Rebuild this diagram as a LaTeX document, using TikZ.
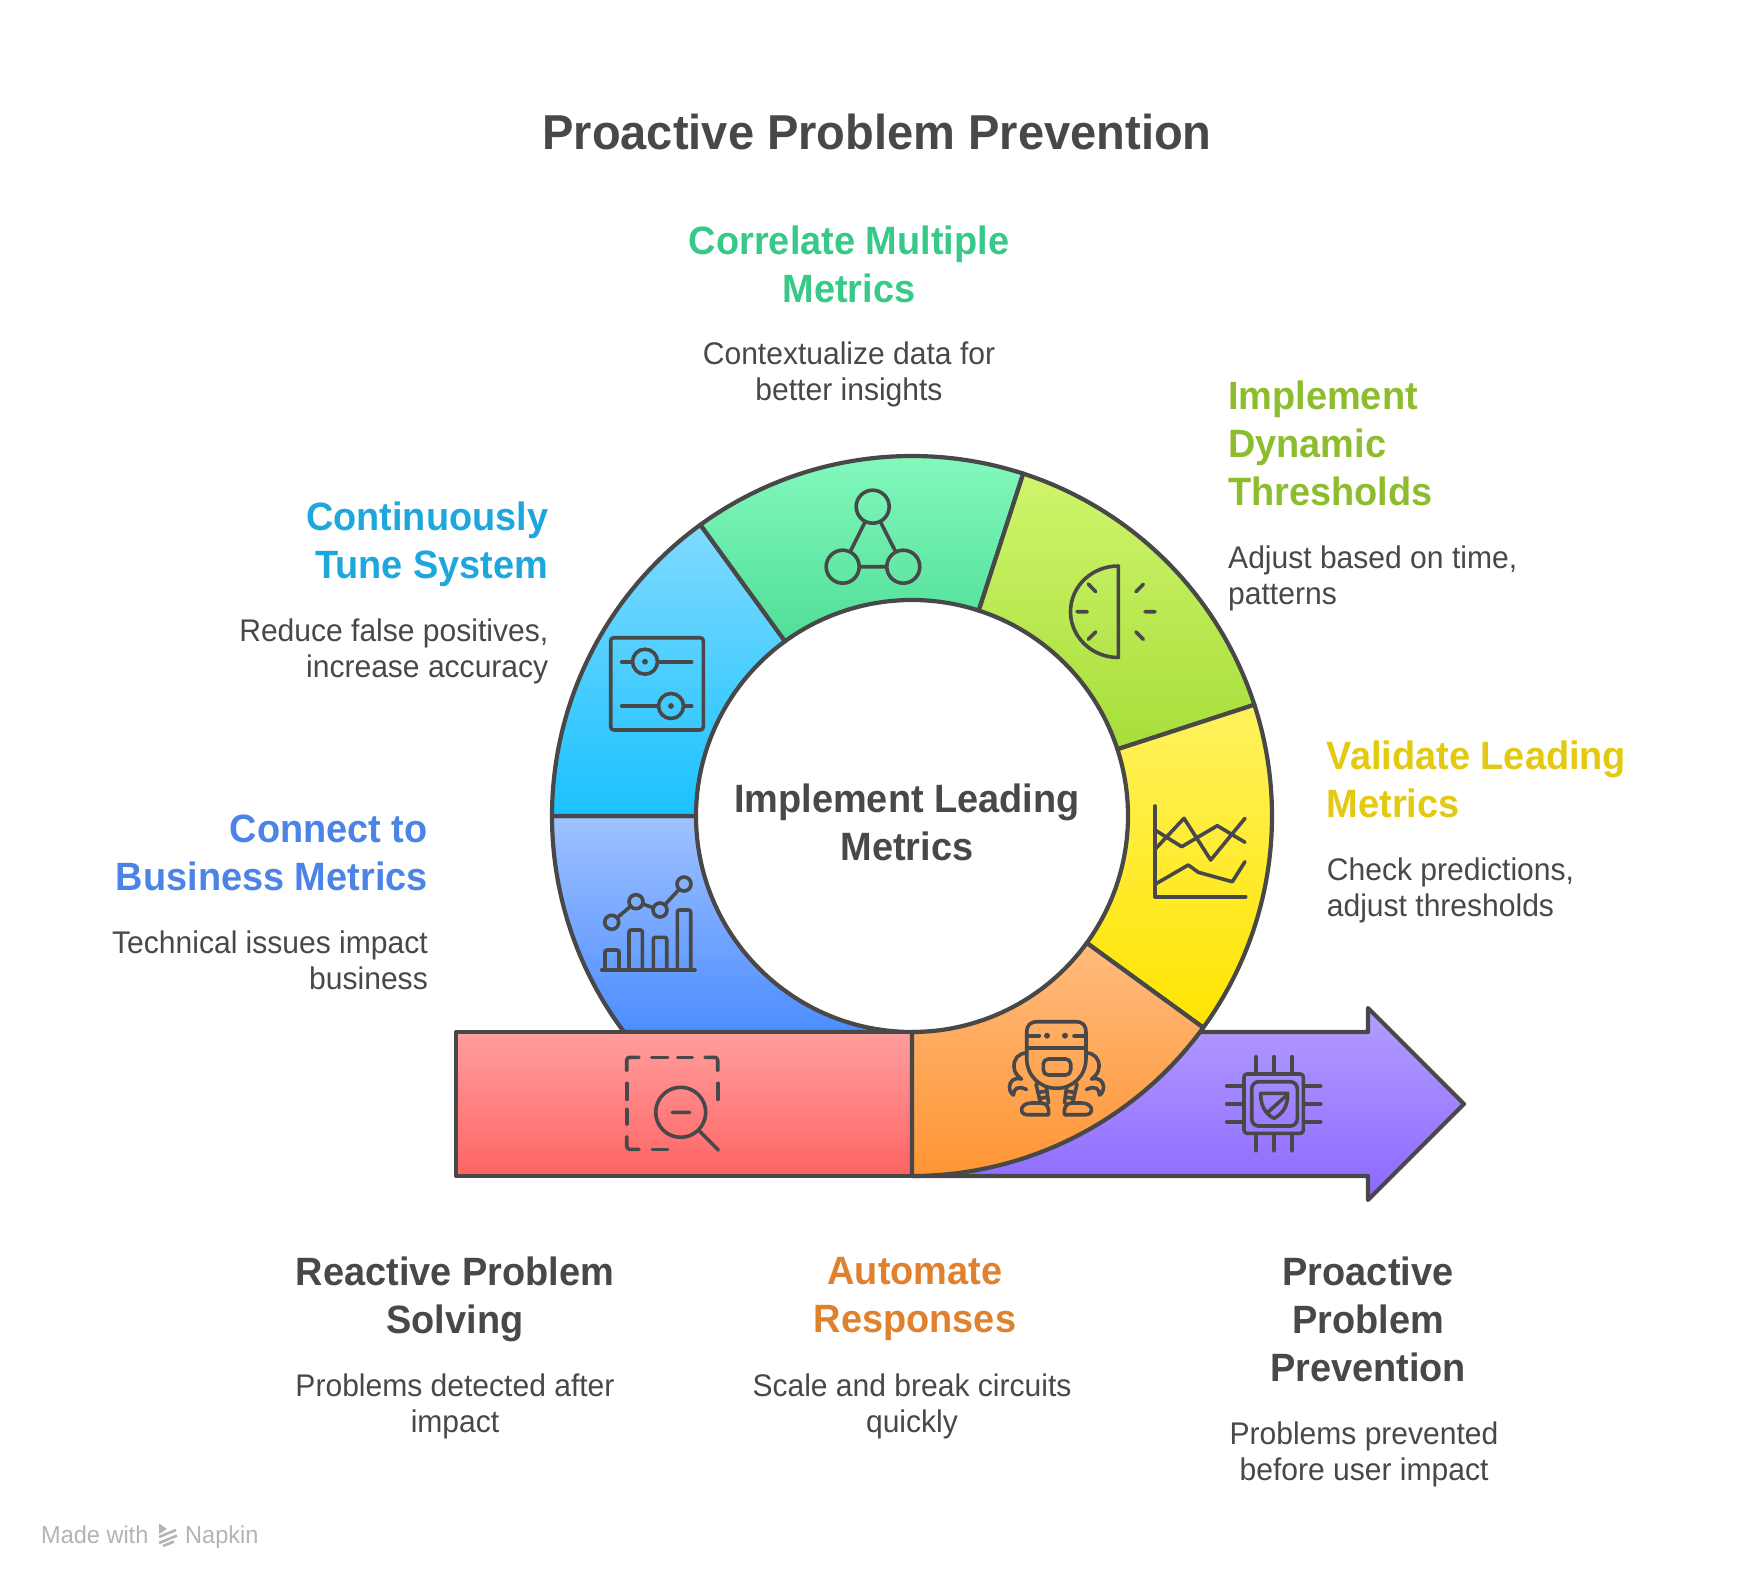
\documentclass[tikz,border=0pt]{standalone}
\usepackage{fontspec}
\setmainfont{Liberation Sans}
\newfontfamily\hfont[FakeStretch=0.96]{Liberation Sans Bold}
\newfontfamily\bfontx[FakeStretch=0.96]{Liberation Sans}
\definecolor{ink}{HTML}{484848}
\definecolor{logo}{HTML}{B4B4B4}
\definecolor{cgreen}{HTML}{36C987}
\definecolor{clime}{HTML}{8DBD2E}
\definecolor{cyellow}{HTML}{E3C90F}
\definecolor{ccyan}{HTML}{1EA7DC}
\definecolor{cblue}{HTML}{4C84E6}
\definecolor{corange}{HTML}{E0812E}
\definecolor{pua}{HTML}{B49DFF}\definecolor{pub}{HTML}{8C68FF}
\definecolor{bla}{HTML}{A0C2FF}\definecolor{blb}{HTML}{4C8DFF}
\definecolor{cya}{HTML}{80DAFF}\definecolor{cyb}{HTML}{19C2FF}
\definecolor{gra}{HTML}{88FBC0}\definecolor{grb}{HTML}{50DE98}
\definecolor{lia}{HTML}{D0F56C}\definecolor{lib}{HTML}{A6DE3A}
\definecolor{yea}{HTML}{FFF15E}\definecolor{yeb}{HTML}{FFE500}
\definecolor{rea}{HTML}{FF9E9E}\definecolor{reb}{HTML}{FF6464}
\definecolor{ora}{HTML}{FFBB7E}\definecolor{orb}{HTML}{FF9534}
\tikzset{
  shp/.style={draw=ink,line width=4.2pt,line join=round},
  ico/.style={draw=ink,line width=3.6pt,line cap=round,line join=round},
  dotx/.style={fill=ink,draw=none},
  ringnode/.style={circle,draw=ink,line width=3.6pt,inner sep=0pt,minimum size=#1},
  txt/.style={inner sep=0pt,text=ink,execute at begin node=\strut,execute at end node=\strut},
  titletxt/.style={txt,yshift=-5.5pt,font=\hfont\fontsize{49}{58}\selectfont,align=center},
  headtxt/.style={txt,yshift=-6.5pt,font=\hfont\fontsize{39.5}{48}\selectfont},
  bodytxt/.style={txt,yshift=-5.5pt,font=\bfontx\fontsize{31.3}{36}\selectfont},
  madetxt/.style={inner sep=0pt,text=logo,font=\bfontx\fontsize{24.5}{28}\selectfont,anchor=base west}
}
\newcommand{\sect}[2]{(#1:216) -- (#1:360) arc[start angle=#1,end angle=#2,radius=360] -- (#2:216) arc[start angle=#2,end angle=#1,radius=216] -- cycle}
\begin{document}
\begin{tikzpicture}[x=1pt,y=-1pt]
\useasboundingbox (0,0) rectangle (1754,1584);
\fill[white] (0,0) rectangle (1754,1584);
% arrow
\draw[shp,top color=pua,bottom color=pub] (912,1032) -- (1368,1032) -- (1368,1008) -- (1464,1104) -- (1368,1200) -- (1368,1176) -- (912,1176) -- cycle;
\begin{scope}[shift={(912,816)},y=1pt]
\draw[shp,top color=bla,bottom color=blb] (180:216) -- (180:360) arc[start angle=180,end angle=216.87,radius=360] -- (270:216) arc[start angle=270,end angle=180,radius=216] -- cycle;
\draw[shp,top color=cya,bottom color=cyb] \sect{126}{180};
\draw[shp,top color=gra,bottom color=grb] \sect{72}{126};
\draw[shp,top color=lia,bottom color=lib] \sect{18}{72};
\draw[shp,top color=yea,bottom color=yeb] \sect{-36}{18};
\end{scope}
% red bar
\draw[shp,top color=rea,bottom color=reb] (456,1032) rectangle (912,1176);
\begin{scope}[shift={(912,816)},y=1pt]
\draw[shp,top color=ora,bottom color=orb] \sect{-90}{-36};
\end{scope}
% triangle icon
\node[ringnode=33pt] (ta) at (872.7,506.7) {};
\node[ringnode=33pt] (tb) at (842.7,566.7) {};
\node[ringnode=33pt] (tc) at (903.3,566.7) {};
\draw[ico] (ta) -- (tb) (tb) -- (tc) (tc) -- (ta);
% sliders icon
\draw[ico,rounded corners=3pt] (610.7,637.7) rectangle (703.3,730);
\node[ringnode=25pt] (sa) at (645,661.7) {};
\node[ringnode=25pt] (sb) at (671,706) {};
\coordinate (saL) at (621.7,661.7); \coordinate (saR) at (691.7,661.7);
\coordinate (sbL) at (621.7,706); \coordinate (sbR) at (691.7,706);
\draw[ico] (saL) -- (sa) (sa) -- (saR) (sbL) -- (sb) (sb) -- (sbR);
\fill[dotx] (sa) circle (2.9); \fill[dotx] (sb) circle (2.9);
% half gauge icon
\draw[ico] (1118.3,566) .. controls (1091.9,566) and (1070.5,586.4) .. (1070.5,611.7) .. controls (1070.5,637) and (1091.9,657.5) .. (1118.3,657.5) -- cycle;
\draw[ico] (1077,611.7) -- (1087.3,611.7) (1088.3,584) -- (1095.7,591.7) (1088.3,639.3) -- (1095.7,632)
  (1145,611.7) -- (1155,611.7) (1143.3,584.3) -- (1136,591.7) (1143.3,639.3) -- (1136,632);
% line chart icon
\draw[ico] (1155,806) -- (1155,896.7) -- (1245.7,896.7);
\draw[ico] (1155,830) -- (1181.7,846.7) -- (1217.3,825.7) -- (1245,842.3);
\draw[ico] (1155,849.3) -- (1184,818.3) -- (1210.7,860) -- (1245,818.3);
\draw[ico] (1155,884.3) -- (1188.3,865) -- (1198.3,872.3) -- (1232.3,881.7) -- (1245,861.7);
% bars icon
\draw[ico] (601.7,970) -- (695,970);
\draw[ico,rounded corners=2pt] (605,970) -- (605,950) -- (619,950) -- (619,970);
\draw[ico,rounded corners=2pt] (629,970) -- (629,930) -- (642.3,930) -- (642.3,970);
\draw[ico,rounded corners=2pt] (653.3,970) -- (653.3,937.3) -- (666.7,937.3) -- (666.7,970);
\draw[ico,rounded corners=2pt] (677.3,970) -- (677.3,910) -- (690.7,910) -- (690.7,970);
\node[ringnode=14pt] (ba) at (611.7,922.3) {};
\node[ringnode=14pt] (bb) at (636,901.7) {};
\node[ringnode=14pt] (bc) at (660,910) {};
\node[ringnode=14pt] (bd) at (684,884) {};
\draw[ico] (ba) -- (bb) (bb) -- (bc) (bc) -- (bd);
% magnifier icon
\draw[ico,rounded corners=3pt] (626.7,1070.7) -- (626.7,1057.3) -- (639,1057.3);
\draw[ico,rounded corners=3pt] (705,1057.3) -- (717.7,1057.3) -- (717.7,1070.7);
\draw[ico,rounded corners=3pt] (626.7,1136.7) -- (626.7,1149.3) -- (639,1149.3);
\draw[ico] (651.7,1057.3) -- (667.7,1057.3) (677.7,1057.3) -- (692.3,1057.3) (626.7,1083.3) -- (626.7,1099.3) (626.7,1109.3) -- (626.7,1124) (652.3,1149.3) -- (667.7,1149.3) (717.7,1083.3) -- (717.7,1099.3);
\node[ringnode=50pt] (mg) at (680.7,1112.3) {};
\coordinate (mh) at (718.3,1150);
\draw[ico] (mg) -- (mh) (672.3,1112.3) -- (689.7,1112.3);
% robot icon
\draw[ico] (1026.7,1033) .. controls (1026.7,1025) and (1030,1021.7) .. (1038,1021.7) -- (1075,1021.7) .. controls (1083,1021.7) and (1086,1025) .. (1086,1033) -- (1086,1058) .. controls (1086,1076) and (1073,1088.3) .. (1056.5,1088.3) .. controls (1040,1088.3) and (1026.7,1076) .. (1026.7,1058) -- cycle;
\draw[ico] (1026.7,1047.7) -- (1086,1047.7) (1026.7,1035.7) -- (1039.3,1035.7) (1074,1035.7) -- (1086,1035.7);
\fill[dotx] (1047,1035.7) circle (3); \fill[dotx] (1065,1035.7) circle (3);
\draw[ico,rounded corners=5pt] (1043.3,1059) rectangle (1070.7,1075);
\foreach \s in {1,-1}{
\begin{scope}[shift={(1056.5,0)},xscale=\s]
\draw[ico] (-29.8,1053) .. controls (-38,1053) and (-43,1059) .. (-42.5,1067) .. controls (-42,1073) and (-39,1076) .. (-35,1079);
\draw[ico] (-35,1079) .. controls (-42,1077) and (-47,1081) .. (-47,1087) .. controls (-47,1091) and (-45,1094) .. (-43,1095) .. controls (-43,1089) and (-39,1085) .. (-30,1089.5);
\draw[ico] (-20.5,1084) -- (-16,1103) (-10,1088) -- (-8,1103) (-19,1092.5) -- (-9,1091) (-17.5,1098.5) -- (-8.5,1097);
\draw[ico] (-8,1114.7) -- (-29,1114.7) .. controls (-38,1114.7) and (-37,1103) .. (-25,1103) -- (-15,1103) .. controls (-9,1103) and (-7,1109) .. (-8,1114.7) -- cycle;
\end{scope}}
% chip icon
\draw[ico,rounded corners=3pt] (1244,1074) rectangle (1303.3,1133.3);
\draw[ico,rounded corners=7pt] (1251.7,1081.7) rectangle (1297.3,1126);
\foreach \p in {1256,1274,1292}{\draw[ico] (\p,1056.7) -- (\p,1073.3) (\p,1134) -- (\p,1150.7);}
\foreach \p in {1086,1104,1122}{\draw[ico] (1226.7,\p) -- (1242.7,\p) (1304,\p) -- (1320.7,\p);}
\draw[ico] (1260.7,1093.3) -- (1287.7,1093.3) .. controls (1288,1107) and (1282,1114) .. (1274,1118.3) .. controls (1266,1114) and (1260.5,1107) .. (1260.7,1093.3) -- cycle;
\draw[ico] (1287,1095) -- (1267,1113);
% texts
\node[titletxt] (title) at (877,132) {Proactive Problem Prevention};
\node[headtxt,align=center,text=cgreen,anchor=center] (h1) at (849,264.5) {Correlate Multiple\\Metrics};
\node[bodytxt,align=center] (b1) at (849,371) {Contextualize data for\\better insights};
\node[headtxt,align=left,text=clime,anchor=west] (h2) at (1228,444) {Implement\\Dynamic\\Thresholds};
\node[bodytxt,align=left,anchor=west] (b2) at (1228,575) {Adjust based on time,\\patterns};
\node[headtxt,align=left,text=cyellow,anchor=west] (h3) at (1326.7,780) {Validate Leading\\Metrics};
\node[bodytxt,align=left,anchor=west] (b3) at (1326.7,887) {Check predictions,\\adjust thresholds};
\node[headtxt,align=right,text=ccyan,anchor=east] (h4) at (548.5,541) {Continuously\\Tune System};
\node[bodytxt,align=right,anchor=east] (b4) at (548.5,648) {Reduce false positives,\\increase accuracy};
\node[headtxt,align=right,text=cblue,anchor=east] (h5) at (428,853) {Connect to\\Business Metrics};
\node[bodytxt,align=right,anchor=east] (b5) at (428,960) {Technical issues impact\\business};
\node[headtxt,align=center] (h6) at (455,1296) {Reactive Problem\\Solving};
\node[bodytxt,align=center] (b6) at (455,1403) {Problems detected after\\impact};
\node[headtxt,align=center,text=corange] (h7) at (915,1296) {Automate\\Responses};
\node[bodytxt,align=center] (b7) at (912,1403) {Scale and break circuits\\quickly};
\node[headtxt,align=center] (h8) at (1368,1320) {Proactive\\Problem\\Prevention};
\node[bodytxt,align=center] (b8) at (1364,1451) {Problems prevented\\before user impact};
\node[headtxt,align=center] (h9) at (907,823) {Implement Leading\\Metrics};
% made with
\node[madetxt] (m1) at (41,1543) {Made with};
\node[madetxt] (m2) at (185,1543) {Napkin};
\fill[logo] (159,1523.5) -- (167,1529) -- (159,1534) -- cycle;
\draw[logo,line width=2.6pt] (159,1537) -- (176,1530) (159,1543) -- (177,1535.5) (163,1546) -- (174,1541.5);
\end{tikzpicture}
\end{document}
